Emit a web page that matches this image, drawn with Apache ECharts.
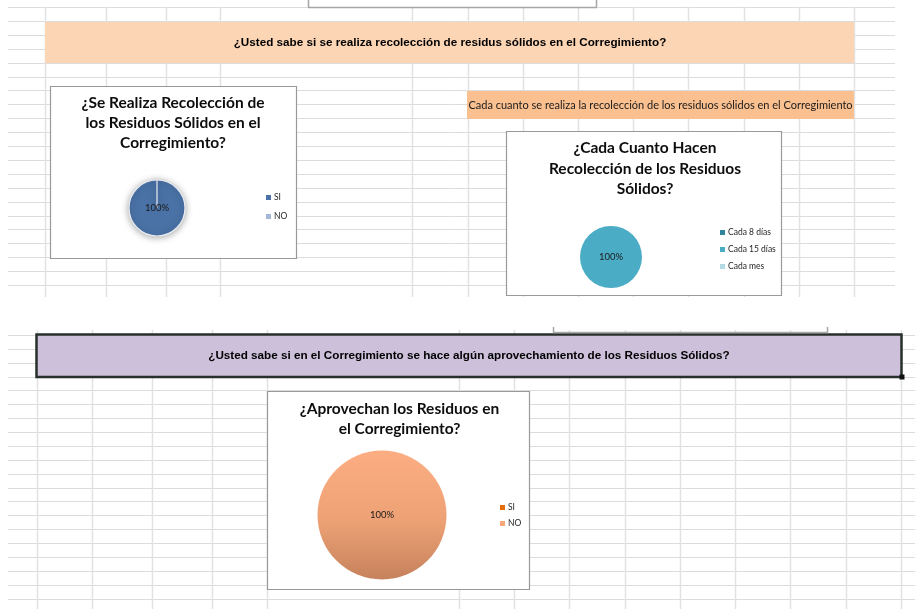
<!DOCTYPE html>
<html>
<head>
<meta charset="utf-8">
<script src="https://cdn.jsdelivr.net/npm/echarts@6/dist/echarts.min.js"></script>
<style>
  html, body { margin: 0; padding: 0; background: #ffffff; }
  #hoja { width: 915px; height: 609px; }
</style>
</head>
<body>
<div id="hoja"></div>
<script>
// ---- Survey results (percent of respondents) ----
const recoleccionCategorias = ['SI', 'NO'];
const recoleccionValores = [100, 0];

const frecuenciaCategorias = ['Cada 8 días', 'Cada 15 días', 'Cada mes'];
const frecuenciaValores = [0, 100, 0];

const aprovechamientoCategorias = ['SI', 'NO'];
const aprovechamientoValores = [0, 100];

// ---- Sheet texts ----
const preguntaRecoleccion = '¿Usted sabe si se realiza recolección de residus sólidos en el Corregimiento?';
const preguntaFrecuencia = 'Cada cuanto se realiza la recolección de los residuos sólidos en el Corregimiento';
const preguntaAprovechamiento = '¿Usted sabe si en el Corregimiento se hace algún aprovechamiento de los Residuos Sólidos?';
const tituloRecoleccion = '¿Se Realiza Recolección de\nlos Residuos Sólidos en el\nCorregimiento?';
const tituloFrecuencia = '¿Cada Cuanto Hacen\nRecolección de los Residuos\nSólidos?';
const tituloAprovechamiento = '¿Aprovechan los Residuos en\nel Corregimiento?';

// ---- Styles ----
const coloresRecoleccion = ['#4a72a6', '#a3b7d8'];
const coloresFrecuencia = ['#31849b', '#4bacc6', '#b2dbe6'];
const coloresAprovechamiento = ['#e46c0a', '#f9a878'];
const fuenteTitulo = 'Lato, "Open Sans", sans-serif';
const fuenteCelda = '"Liberation Sans Narrow", "Liberation Sans", Arial, sans-serif';

// ---- Spreadsheet background (cell grid, filled cells, chart frames) ----
const g = [];
const lineaCelda = '#dcdcdc';
function linea(x1, y1, x2, y2, color, ancho, z) {
  g.push({ type: 'line', silent: true, z: z || 0,
    shape: { x1: x1, y1: y1, x2: x2, y2: y2 },
    style: { stroke: color, lineWidth: ancho } });
}
function caja(x, y, w, h, fill, stroke, ancho, z) {
  g.push({ type: 'rect', silent: true, z: z || 1,
    shape: { x: x, y: y, width: w, height: h },
    style: { fill: fill, stroke: stroke || null, lineWidth: ancho || 0 } });
}
function texto(t, x, y, font, color, lh, z) {
  g.push({ type: 'text', silent: true, z: z || 3, x: x, y: y,
    style: { text: t, font: font, fill: color, align: 'center', verticalAlign: 'middle', lineHeight: lh } });
}

// upper block of cells
const colsArriba = [45, 106, 166, 220, 412, 468, 523, 578, 633, 688, 744, 799, 854];
for (let k = 0; k <= 20; k++) {
  const y = Math.round(7 + 13.9 * k) + 0.5;
  linea(8, y, 895, y, lineaCelda, 1);
}
colsArriba.forEach(function (x) { linea(x + 0.5, 7, x + 0.5, 297, '#e2e2e2', 1.5); });

// lower block of cells
const colsAbajo = [37, 92, 152, 212, 267, 459, 514, 569, 625, 680, 735, 790, 846, 901];
for (let k = 0; k <= 19; k++) {
  const y = Math.round(335 + 13.87 * k) + 0.5;
  linea(8, y, 915, y, lineaCelda, 1);
}
colsAbajo.forEach(function (x) { linea(x + 0.5, 330, x + 0.5, 609, '#e2e2e2', 1.5); });

// edges of charts that sit outside the visible area
linea(308.5, 0, 308.5, 7.5, '#a6a6a6', 1.5, 2);
linea(596.5, 0, 596.5, 7.5, '#a6a6a6', 1.5, 2);
linea(308, 7.5, 597, 7.5, '#a6a6a6', 1.5, 2);
linea(553.5, 327, 553.5, 332.5, '#a6a6a6', 1.5, 2);
linea(827.5, 327, 827.5, 332.5, '#a6a6a6', 1.5, 2);
linea(553, 332.5, 828, 332.5, '#a6a6a6', 1.5, 2);

// question cells
caja(45, 22, 809, 41, '#fcd5b4');
texto(preguntaRecoleccion, 450, 42.5, 'bold 11.7px ' + fuenteCelda, '#000000', 13);
caja(467, 91, 387, 28, '#fac090');
texto(preguntaFrecuencia, 660.5, 105, '11px ' + fuenteTitulo, '#1a1a1a', 12);
caja(36.5, 334.5, 865, 42.5, '#ccc0da', '#27302a', 2.5);
texto(preguntaAprovechamiento, 469, 356, 'bold 11.7px ' + fuenteCelda, '#000000', 13);
caja(899.5, 374.5, 5, 5, '#111111', null, 0, 4);

// chart frames
caja(50.5, 86.5, 246, 172, '#ffffff', '#999999', 1.2);
caja(506.5, 131.5, 275, 164, '#ffffff', '#999999', 1.2);
caja(267.5, 391.5, 262, 198, '#ffffff', '#999999', 1.2);

// chart titles
texto(tituloRecoleccion, 173, 123, 'bold 15.5px ' + fuenteTitulo, '#0d0d0d', 20);
texto(tituloFrecuencia, 645, 168.5, 'bold 15.5px ' + fuenteTitulo, '#0d0d0d', 20.5);
texto(tituloAprovechamiento, 399.5, 419, 'bold 15.5px ' + fuenteTitulo, '#0d0d0d', 20);

// ---- Pie charts ----
function datos(cats, vals, colores, extra) {
  return cats.map(function (n, i) {
    return { name: n, value: vals[i], itemStyle: Object.assign({ color: colores[i] }, extra || {}) };
  });
}
const etiqueta = {
  show: true, position: 'center', fontSize: 9.5, fontFamily: fuenteTitulo, color: '#1a1a1a',
  formatter: function (p) { return p.value > 0 ? Math.round(p.percent) + '%' : ''; }
};
function leyenda(cats, colores, left, top, gap) {
  return {
    orient: 'vertical', left: left, top: top, itemGap: gap, itemWidth: 5, itemHeight: 5,
    icon: 'rect', selectedMode: false, padding: 0,
    textStyle: { fontSize: 8.5, fontFamily: fuenteTitulo, color: '#262626', padding: [0, 0, 0, -2] },
    data: cats.map(function (n, i) {
      return { name: n, itemStyle: { color: colores[i], borderWidth: 0, shadowBlur: 0 } };
    })
  };
}

const grafico = echarts.init(document.getElementById('hoja'), null, { renderer: 'canvas' });
grafico.setOption({
  animation: false,
  graphic: { elements: g },
  legend: [
    leyenda(recoleccionCategorias, coloresRecoleccion, 266, 193, 10),
    leyenda(frecuenciaCategorias, coloresFrecuencia, 720, 228, 8),
    leyenda(aprovechamientoCategorias, coloresAprovechamiento, 500, 503, 7)
  ],
  series: [
    {
      type: 'pie', center: [157, 208], radius: 28, startAngle: 90, silent: true,
      emphasis: { disabled: true }, labelLine: { show: false }, label: etiqueta,
      itemStyle: { borderColor: '#e9ecf2', borderWidth: 1.2, shadowBlur: 7, shadowColor: 'rgba(0,0,0,0.35)', shadowOffsetY: 1 },
      data: datos(recoleccionCategorias, recoleccionValores, coloresRecoleccion)
    },
    {
      type: 'pie', center: [611, 257], radius: 31, startAngle: 90, silent: true,
      emphasis: { disabled: true }, labelLine: { show: false }, label: etiqueta,
      itemStyle: { borderWidth: 0 },
      data: datos(frecuenciaCategorias, frecuenciaValores, coloresFrecuencia)
    },
    {
      type: 'pie', center: [382, 515], radius: 64.5, startAngle: 90, silent: true,
      emphasis: { disabled: true }, labelLine: { show: false }, label: etiqueta,
      itemStyle: { borderWidth: 0 },
      data: aprovechamientoCategorias.map(function (n, i) {
        const c = i === 1
          ? { type: 'linear', x: 0, y: 0, x2: 0, y2: 1,
              colorStops: [{ offset: 0, color: '#fcae82' }, { offset: 0.55, color: '#eda175' }, { offset: 1, color: '#c6825c' }] }
          : coloresAprovechamiento[i];
        return { name: n, value: aprovechamientoValores[i], itemStyle: { color: c } };
      })
    }
  ]
});
</script>
</body>
</html>
